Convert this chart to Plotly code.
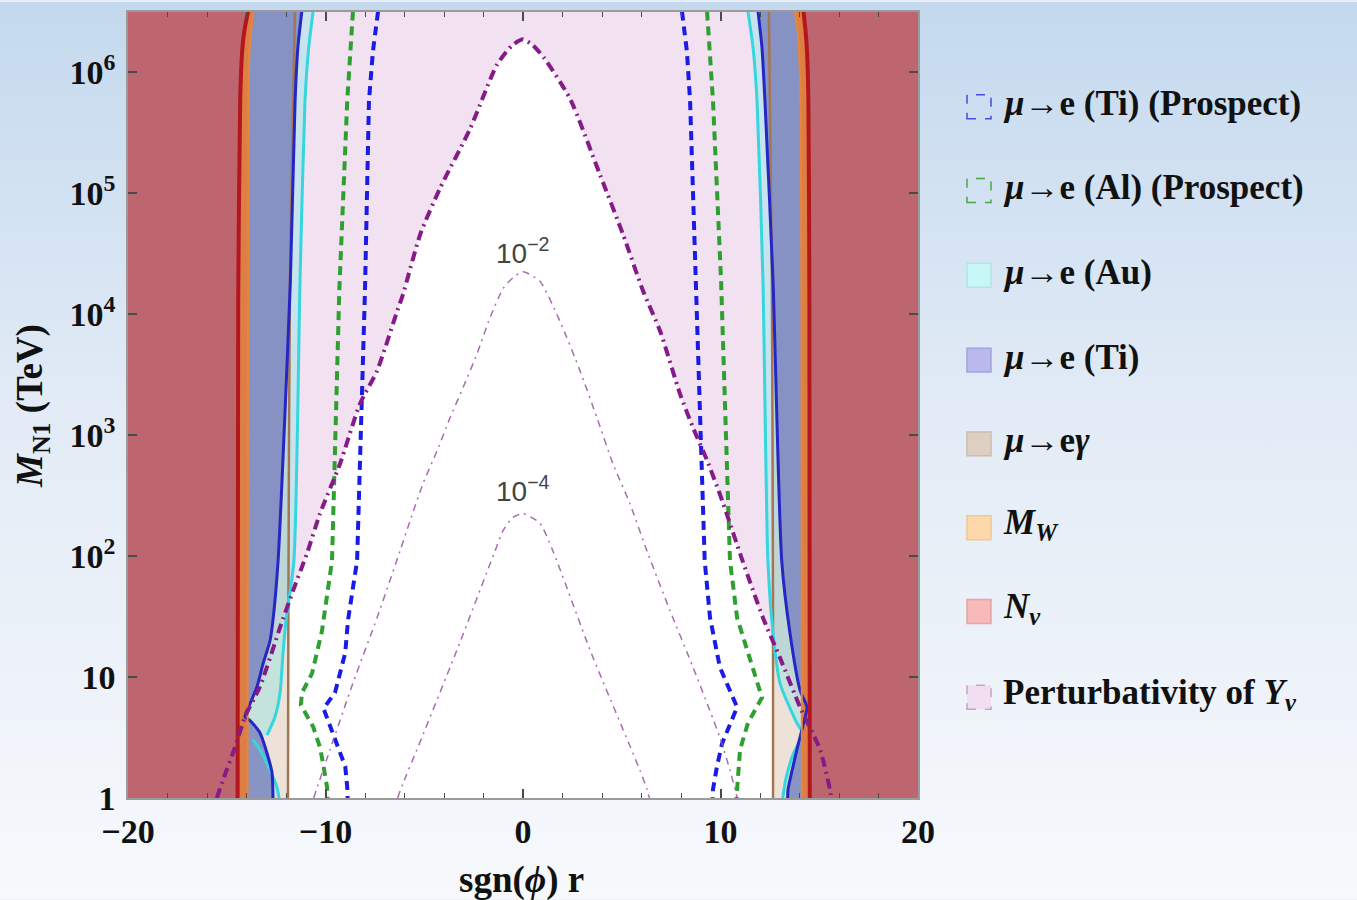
import base64
import plotly.graph_objects as go

# ---------------------------------------------------------------------------
# Boundary curves, given as log10(M_N1 / TeV) and the matching sgn(phi) r
# ---------------------------------------------------------------------------
# perturbativity of Y_nu (thick dash-dot contour)
pert_left_logm = [6.27, 6.22, 6.06, 5.53, 5.04, 4.66, 4.16, 4.02, 3.53, 3.26, 2.76, 2.35, 2.02,
                  1.71, 1.41, 1.28, 0.92, 0.67, 0.42, 0.15, 0.0]
pert_left_r = [0.0, -0.55, -1.32, -2.68, -4.2, -5.2, -6.08, -6.38, -7.39, -8.25, -9.27, -10.28, -10.94,
               -11.65, -12.3, -12.56, -13.32, -14.08, -14.58, -15.19, -15.5]
pert_right_logm = [6.27, 6.22, 6.12, 5.78, 5.15, 4.66, 4.19, 3.86, 3.34, 3.06, 2.79, 2.51, 2.27,
                   2.02, 1.49, 1.16, 0.75, 0.40, 0.07, 0.0]
pert_right_r = [0.0, 0.5, 1.05, 2.38, 3.9, 5.06, 6.08, 6.94, 7.95, 8.61, 9.32, 9.97, 10.48,
                10.99, 12.15, 13.01, 14.03, 15.04, 15.54, 15.6]

# thin contours of |Y_nu| = 1e-2 and 1e-4
c2_left_logm = [4.35, 4.30, 4.21, 3.97, 3.67, 3.39, 3.14, 2.87, 2.60, 2.29, 2.04, 1.49, 0.95, 0.40, 0.0]
c2_left_r = [0.0, -0.51, -1.01, -1.67, -2.33, -3.04, -3.70, -4.35, -5.06, -5.72, -6.23, -7.39, -8.61, -9.77, -10.6]
c2_right_logm = [4.35, 4.27, 3.94, 3.53, 3.14, 2.76, 2.43, 2.04, 1.55, 1.08, 0.5, 0.23, 0.0]
c2_right_r = [0.0, 0.86, 1.87, 2.89, 3.75, 4.56, 5.42, 6.28, 7.44, 8.61, 9.97, 10.48, 10.85]
c4_left_logm = [2.35, 2.32, 2.21, 2.04, 1.2, 0.4, 0.12, 0.0]
c4_left_r = [0.0, -0.51, -1.01, -1.42, -3.4, -5.37, -6.08, -6.35]
c4_right_logm = [2.35, 2.27, 2.04, 1.2, 0.23, 0.07, 0.0]
c4_right_r = [0.0, 0.86, 1.52, 3.45, 5.92, 6.28, 6.4]

# N_nu (red) and M_W (orange) boundaries
edge_logm = [6.5, 6.35, 6.17, 5.76, 4.1, 0.0]
nnu_left_r = [-13.92, -14.1, -14.22, -14.32, -14.42, -14.45]
nnu_right_r = [14.2, 14.3, 14.38, 14.45, 14.5, 14.52]
mw_left_r = [-13.65, -13.76, -13.85, -13.9, -13.92, -13.95]
mw_right_r = [13.75, 13.9, 13.98, 14.05, 14.1, 14.12]

# mu -> e gamma (brown)
meg_logm = [6.5, 4.3, 1.5, 0.0]
meg_left_r = [-11.55, -11.8, -11.88, -11.9]
meg_right_r = [12.45, 12.6, 12.66, 12.66]

# mu -> e (Au), cyan: upper branch and lower branch
au_left_up_logm = [6.5, 6.2, 5.76, 4.27, 1.96, 1.47, 1.2, 0.87, 0.67, 0.52]
au_left_up_r = [-10.63, -10.85, -11.04, -11.29, -11.6, -12.0, -12.15, -12.3, -12.56, -12.96]
au_left_lo_logm = [0.48, 0.4, 0.23, 0.09, 0.0]
au_left_lo_r = [-13.67, -13.32, -12.81, -12.46, -12.35]
au_right_up_logm = [6.5, 6.2, 5.76, 4.27, 1.96, 1.36, 0.95, 0.62, 0.54]
au_right_up_r = [11.39, 11.65, 11.85, 12.15, 12.4, 12.66, 13.01, 13.87, 14.18]
au_right_lo_logm = [0.5, 0.35, 0.15, 0.0]
au_right_lo_r = [14.1, 13.65, 13.3, 13.15]

# mu -> e (Ti), blue: upper branch and lower branch
ti_left_up_logm = [6.5, 6.2, 5.76, 4.27, 3.0, 1.96, 1.47, 1.30, 1.11, 0.92, 0.78, 0.67]
ti_left_up_r = [-11.2, -11.4, -11.54, -11.78, -12.1, -12.4, -12.66, -12.81, -13.16, -13.47, -13.82, -14.08]
ti_left_lo_logm = [0.64, 0.54, 0.37, 0.21, 0.0]
ti_left_lo_r = [-13.82, -13.32, -12.96, -12.71, -12.66]
ti_right_up_logm = [6.5, 6.2, 5.76, 4.27, 1.96, 1.36, 0.89, 0.75]
ti_right_up_r = [11.9, 12.1, 12.25, 12.66, 13.1, 13.52, 14.03, 14.38]
ti_right_lo_logm = [0.68, 0.4, 0.07, 0.0]
ti_right_lo_r = [14.3, 13.87, 13.42, 13.4]

# prospects (dashed)
tip_left_logm = [6.5, 6.17, 5.76, 4.2, 1.96, 1.47, 1.2, 0.87, 0.74, 0.59, 0.42, 0.26, 0.09, 0.0]
tip_left_r = [-7.34, -7.6, -7.8, -8.0, -8.4, -8.86, -9.0, -9.52, -10.1, -9.77, -9.37, -9.0, -8.9, -8.88]
tip_right_logm = [6.5, 6.17, 5.76, 4.27, 1.96, 1.49, 1.08, 0.75, 0.45, 0.26, 0.07, 0.0]
tip_right_r = [8.05, 8.3, 8.46, 8.76, 9.2, 9.47, 9.97, 10.84, 10.08, 9.82, 9.62, 9.6]
alp_left_logm = [6.5, 6.17, 5.76, 4.2, 1.96, 1.38, 1.2, 1.03, 0.87, 0.77, 0.59, 0.42, 0.29, 0.09, 0.0]
alp_left_r = [-8.61, -8.76, -8.9, -9.3, -9.67, -10.18, -10.43, -10.68, -11.19, -11.25, -10.63, -10.28,
              -10.13, -9.92, -9.9]
alp_right_logm = [6.5, 6.17, 5.76, 4.27, 1.96, 1.49, 1.14, 0.83, 0.62, 0.4, 0.07, 0.0]
alp_right_r = [9.32, 9.47, 9.62, 10.03, 10.48, 10.84, 11.49, 12.1, 11.39, 10.99, 10.84, 10.82]

# axes
x_range = [-20, 20]
y_top_logm = 6.496
x_tickvals = [-20, -10, 0, 10, 20]
x_ticktext = ["\u221220", "\u221210", "0", "10", "20"]
x_minor = [v for v in range(-18, 20, 2) if v % 10 != 0]
y_tickvals = [1, 10, 100, 1e3, 1e4, 1e5, 1e6]
y_ticktext = ["1", "10", "10<sup>2</sup>", "10<sup>3</sup>", "10<sup>4</sup>",
              "10<sup>5</sup>", "10<sup>6</sup>"]

legend_labels = [
    "<i>\u03bc</i>\u2192e (Ti) (Prospect)",
    "<i>\u03bc</i>\u2192e (Al) (Prospect)",
    "<i>\u03bc</i>\u2192e (Au)",
    "<i>\u03bc</i>\u2192e (Ti)",
    "<i>\u03bc</i>\u2192e<i>\u03b3</i>",
    "<i>M<sub>W</sub></i>",
    "<i>N<sub>\u03bd</sub></i>",
    "Perturbativity of <i>Y<sub>\u03bd</sub></i>",
]
legend_fill = ["rgba(0,0,0,0)", "rgba(0,0,0,0)", "#c9f7f7", "#b9b9ee", "#ddd0c2",
               "#fdd8aa", "#f7b9b9", "#f1def1"]
legend_edge = ["#4a4ae0", "#47a847", "#aee6e6", "#a3a3dd", "#cbbcae", "#efc797",
               "#e6a4a4", "#c7a2c7"]
legend_dash = ["dash", "dash", "solid", "solid", "solid", "solid", "solid", "dash"]

SERIF = "Liberation Serif, Times New Roman, serif"
SANS = "Liberation Sans, Arial, sans-serif"
TOP, BOT = 6.9, -0.3


def tev(logm):
    return [10 ** v for v in logm]


def band(r_curve, logm_curve, edge):
    """Polygon between the frame edge (x = edge) and a boundary curve."""
    xs = [edge, r_curve[0]] + list(r_curve) + [r_curve[-1], edge]
    ys = [TOP, TOP] + list(logm_curve) + [BOT, BOT]
    return xs, tev(ys)


fig = go.Figure()


def add_fill(xs, ys, color, shape="spline"):
    fig.add_trace(go.Scatter(x=xs, y=ys, mode="lines", fill="toself", fillcolor=color,
                             line=dict(width=0, color=color, shape=shape, smoothing=0.6),
                             hoverinfo="skip", showlegend=False))


def add_line(xs, logm, color, width, dash="solid", shape="spline"):
    fig.add_trace(go.Scatter(x=xs, y=tev(logm), mode="lines",
                             line=dict(color=color, width=width, dash=dash, shape=shape,
                                       smoothing=0.6),
                             hoverinfo="skip", showlegend=False))


# perturbativity region fills the frame, allowed wedge is white
add_fill([x_range[0], x_range[1], x_range[1], x_range[0]], tev([TOP, TOP, BOT, BOT]), "#f1e1f1",
         shape="linear")
wx = [pert_left_r[-1]] + pert_left_r[::-1] + pert_right_r[1:] + [pert_right_r[-1]]
wy = [BOT] + pert_left_logm[::-1] + pert_right_logm[1:] + [BOT]
add_fill(wx, tev(wy), "#ffffff")

# mu -> e gamma
add_fill(*band(meg_left_r, meg_logm, x_range[0]), "rgba(205,170,140,0.35)")
add_fill(*band(meg_right_r, meg_logm, x_range[1]), "rgba(205,170,140,0.35)")
# mu -> e (Au)
add_fill(*band(au_left_up_r + au_left_lo_r, au_left_up_logm + au_left_lo_logm, x_range[0]),
         "rgba(120,232,232,0.35)")
add_fill(*band(au_right_up_r + au_right_lo_r, au_right_up_logm + au_right_lo_logm, x_range[1]),
         "rgba(120,232,232,0.35)")
# mu -> e (Ti)
add_fill(*band(ti_left_up_r + ti_left_lo_r, ti_left_up_logm + ti_left_lo_logm, x_range[0]),
         "rgba(126,137,192,0.88)")
add_fill(*band(ti_right_up_r + ti_right_lo_r, ti_right_up_logm + ti_right_lo_logm, x_range[1]),
         "rgba(126,137,192,0.88)")
# M_W
add_fill(*band(mw_left_r, edge_logm, x_range[0]), "#dd7f45")
add_fill(*band(mw_right_r, edge_logm, x_range[1]), "#dd7f45")
# N_nu
add_fill(*band(nnu_left_r, edge_logm, x_range[0]), "#bd6670")
add_fill(*band(nnu_right_r, edge_logm, x_range[1]), "#bd6670")

# boundary lines
for r in (meg_left_r, meg_right_r):
    add_line(r, meg_logm, "#a47552", 2.5)
add_line(au_left_up_r, au_left_up_logm, "#35d6de", 3)
add_line(au_left_lo_r, au_left_lo_logm, "#35d6de", 3)
add_line(au_right_up_r, au_right_up_logm, "#35d6de", 3)
add_line(au_right_lo_r, au_right_lo_logm, "#35d6de", 3)
add_line(ti_left_up_r + ti_left_lo_r, ti_left_up_logm + ti_left_lo_logm, "#2626c4", 3)
add_line(ti_right_up_r + ti_right_lo_r, ti_right_up_logm + ti_right_lo_logm, "#2626c4", 3)
for r in (mw_left_r, mw_right_r):
    add_line(r, edge_logm, "#e8843c", 2)
for r in (nnu_left_r, nnu_right_r):
    add_line(r, edge_logm, "#b3161c", 4)

# prospects
add_line(alp_left_r, alp_left_logm, "#2f9f2f", 4, "9px,6px", shape="linear")
add_line(alp_right_r, alp_right_logm, "#2f9f2f", 4, "9px,6px", shape="linear")
add_line(tip_left_r, tip_left_logm, "#1b1be6", 4, "9px,6px", shape="linear")
add_line(tip_right_r, tip_right_logm, "#1b1be6", 4, "9px,6px", shape="linear")

# thin Yukawa contours
for lr, ll, rr, rl in ((c2_left_r, c2_left_logm, c2_right_r, c2_right_logm),
                       (c4_left_r, c4_left_logm, c4_right_r, c4_right_logm)):
    add_line(lr[::-1] + rr[1:], ll[::-1] + rl[1:], "rgba(150,85,160,0.85)", 1.5, "7px,5px,2px,5px")

# perturbativity boundary
add_line(pert_left_r[::-1] + pert_right_r[1:], pert_left_logm[::-1] + pert_right_logm[1:],
         "#861a88", 4, "10px,5px,2px,5px")

# ---------------------------------------------------------------------------
# layout
# ---------------------------------------------------------------------------
W, H = 1357, 900
L_M, R_M, T_M, B_M = 128, 439, 10, 102
PW, PH = W - L_M - R_M, H - T_M - B_M


def px(x):
    return (x - L_M) / PW


def py(y):
    return (H - B_M - y) / PH


svg = (f'<svg xmlns="http://www.w3.org/2000/svg" width="{W}" height="{H}" '
       f'viewBox="0 0 {W} {H}" preserveAspectRatio="none">'
       '<defs><linearGradient id="g" x1="0" y1="0" x2="0" y2="1">'
       '<stop offset="0" stop-color="#c4d9ee"/><stop offset="0.45" stop-color="#e2ebf6"/>'
       '<stop offset="1" stop-color="#f7f9fc"/></linearGradient></defs>'
       f'<rect width="{W}" height="{H}" fill="url(#g)"/></svg>')
bg_src = "data:image/svg+xml;base64," + base64.b64encode(svg.encode()).decode()

axis_common = dict(showgrid=False, zeroline=False, showline=True, linecolor="#9a9a9a",
                   linewidth=1.5, mirror="allticks", ticks="inside", ticklen=9,
                   tickwidth=1.5, tickcolor="#4a4a4a", layer="above traces",
                   tickfont=dict(family=SERIF, size=34, color="#111", weight="bold"))

fig.update_layout(
    width=W, height=H, autosize=False,
    margin=dict(l=L_M, r=R_M, t=T_M, b=B_M),
    paper_bgcolor="#e6eef7", plot_bgcolor="#ffffff",
    showlegend=False,
    xaxis=dict(range=x_range, tickmode="array", tickvals=x_tickvals, ticktext=x_ticktext,
               minor=dict(tickmode="array", tickvals=x_minor, ticks="inside", ticklen=5,
                          tickwidth=1, tickcolor="#4a4a4a"),
               ticklabelstandoff=2, **axis_common),
    yaxis=dict(type="log", range=[0, y_top_logm], tickmode="array", tickvals=y_tickvals,
               ticktext=y_ticktext, ticklabelstandoff=4, **axis_common),
    images=[dict(source=bg_src, xref="paper", yref="paper", x=px(0), y=py(0),
                 sizex=W / PW, sizey=H / PH, xanchor="left", yanchor="top",
                 sizing="stretch", layer="below")],
)

annotations = [
    dict(text="sgn(<i>\u03d5</i>) r", x=px(521), y=py(880), xref="paper", yref="paper",
         showarrow=False, xanchor="center", yanchor="middle",
         font=dict(family=SERIF, size=37, color="#111", weight="bold")),
    dict(text="<i>M</i><sub>N1</sub> (TeV)", x=px(33), y=py(405), xref="paper", yref="paper",
         showarrow=False, textangle=-90, xanchor="center", yanchor="middle",
         font=dict(family=SERIF, size=37, color="#111", weight="bold")),
    dict(text="10<sup>\u22122</sup>", x=0, y=4.52, xref="x", yref="y", showarrow=False,
         xanchor="center", yanchor="middle", font=dict(family=SANS, size=28, color="#444")),
    dict(text="10<sup>\u22124</sup>", x=0, y=2.55, xref="x", yref="y", showarrow=False,
         xanchor="center", yanchor="middle", font=dict(family=SANS, size=28, color="#444")),
]

shapes = []
row_y = [105, 189, 274, 359, 443, 527, 611, 697]
for cy, label, fc, ec, dsh in zip(row_y, legend_labels, legend_fill, legend_edge, legend_dash):
    shapes.append(dict(type="rect", xref="paper", yref="paper",
                       x0=px(967), x1=px(991), y0=py(cy + 12), y1=py(cy - 12),
                       fillcolor=fc, line=dict(color=ec, width=1.5, dash=dsh)))
    annotations.append(dict(text=label, x=px(1001), y=py(cy - 3), xref="paper", yref="paper",
                            showarrow=False, xanchor="left", yanchor="middle",
                            font=dict(family=SERIF, size=35, color="#111", weight="bold")))

fig.update_layout(annotations=annotations, shapes=shapes)
fig.write_html("out.html")
